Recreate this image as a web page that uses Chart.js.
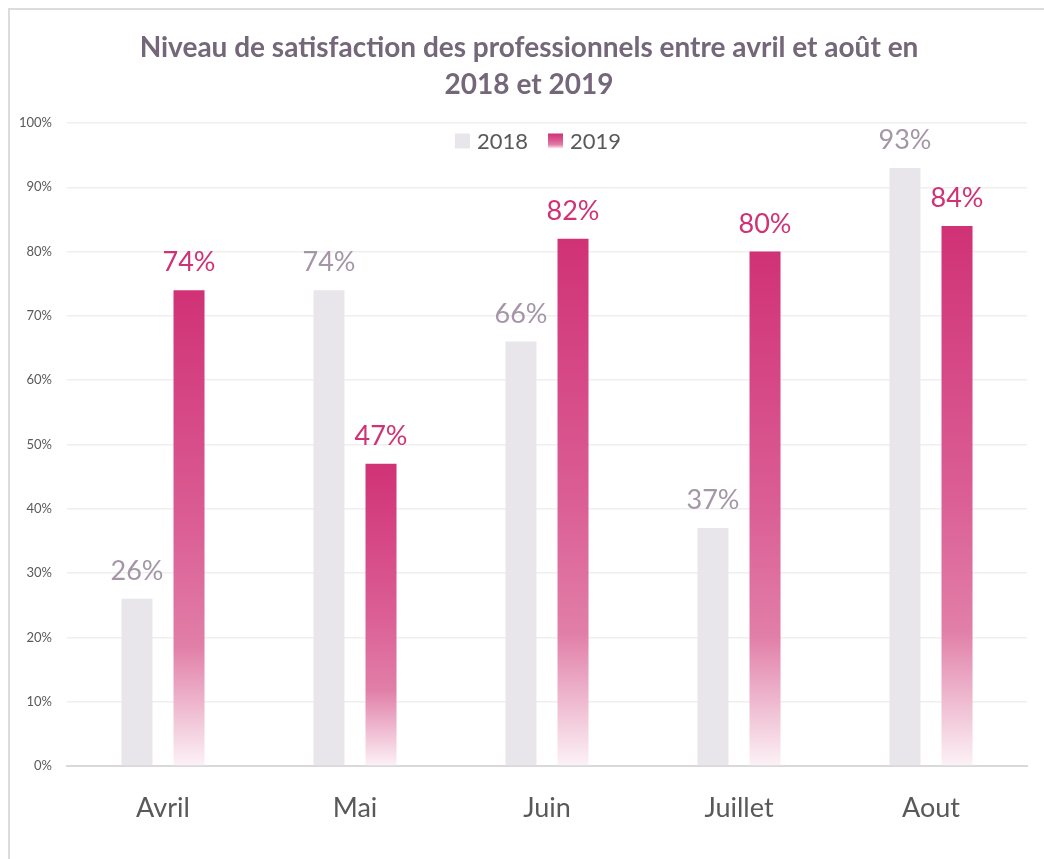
<!DOCTYPE html>
<html>
<head>
<meta charset="utf-8">
<script src="https://cdn.jsdelivr.net/npm/chart.js@4/dist/chart.umd.min.js"></script>
<style>
  html, body { margin: 0; padding: 0; background: #fff; overflow: hidden; }
  #frame { position: absolute; left: 8px; top: 8px; width: 1100px; height: 900px;
           border-left: 2px solid #DEDAE0; border-top: 2px solid #DEDAE0; }
  #wrap { position: absolute; left: 0; top: 0; width: 1044px; height: 859px; }
</style>
</head>
<body>
<div id="frame"></div>
<div id="wrap"><canvas id="c" width="1044" height="859"></canvas></div>
<script>
const categories = ['Avril', 'Mai', 'Juin', 'Juillet', 'Aout'];
const values2018 = [26, 74, 66, 37, 93];
const values2019 = [74, 47, 82, 80, 84];
const seriesNames = ['2018', '2019'];
const titleLines = ['Niveau de satisfaction des professionnels entre avril et août en', '2018 et 2019'];

const FONT = "Lato, 'Open Sans', 'DejaVu Sans', sans-serif";
const PINK = '#D03275';
const GREY = '#E8E6EA';

function pinkGradient(ctx2d, top, bottom) {
  const g = ctx2d.createLinearGradient(0, top, 0, bottom);
  g.addColorStop(0, '#D03275');
  g.addColorStop(0.5, '#DB5E95');
  g.addColorStop(0.75, '#E17FA8');
  g.addColorStop(1, '#FCF2F6');
  return g;
}

const labelPlugin = {
  id: 'valueLabels',
  afterDatasetsDraw(chart) {
    const ctx = chart.ctx;
    ctx.save();
    ctx.font = '27px ' + FONT;
    ctx.textAlign = 'center';
    ctx.textBaseline = 'alphabetic';
    chart.data.datasets.forEach((ds, di) => {
      const meta = chart.getDatasetMeta(di);
      ctx.fillStyle = di === 0 ? '#A596A7' : PINK;
      meta.data.forEach((el, i) => {
        ctx.fillText(ds.data[i] + '%', el.x, el.y - 19);
      });
    });
    ctx.restore();
  },
  afterDraw(chart) {
    const ctx = chart.ctx;
    ctx.save();
    // title
    ctx.font = 'bold 28px ' + FONT;
    ctx.fillStyle = '#75677A';
    ctx.textAlign = 'center';
    ctx.textBaseline = 'middle';
    titleLines.forEach((t, i) => ctx.fillText(t, 529, 48 + i * 37));
    // legend drawn inside the plot area, centred
    ctx.font = '22px ' + FONT;
    ctx.textBaseline = 'middle';
    ctx.textAlign = 'left';
    const box = 15, gapText = 7, gapItem = 20;
    const widths = seriesNames.map(n => ctx.measureText(n).width);
    const total = widths.reduce((a, w) => a + box + gapText + w, 0) + gapItem * (seriesNames.length - 1);
    const cy = chart.chartArea.top + 18;
    let x = 538 - total / 2;
    seriesNames.forEach((name, i) => {
      const y0 = cy - box / 2;
      ctx.fillStyle = i === 0 ? GREY : pinkGradient(ctx, y0, y0 + box);
      ctx.fillRect(x, y0, box, box);
      x += box + gapText;
      ctx.fillStyle = '#595959';
      ctx.fillText(name, x, cy + 1);
      x += widths[i] + gapItem;
    });
    ctx.restore();
  }
};

new Chart(document.getElementById('c'), {
  type: 'bar',
  data: {
    labels: categories,
    datasets: [
      {
        label: seriesNames[0],
        data: values2018,
        backgroundColor: GREY,
        borderWidth: 0,
        categoryPercentage: 0.542,
        barPercentage: 0.596
      },
      {
        label: seriesNames[1],
        data: values2019,
        backgroundColor: (c) => {
          const chart = c.chart;
          if (c.type !== 'data' || !chart.chartArea || !chart.scales.y) return PINK;
          const y = chart.scales.y;
          return pinkGradient(chart.ctx, y.getPixelForValue(c.raw), y.getPixelForValue(0));
        },
        borderWidth: 0,
        categoryPercentage: 0.542,
        barPercentage: 0.596
      }
    ]
  },
  options: {
    responsive: false,
    animation: false,
    layout: { padding: { left: 0, right: 17, top: 123, bottom: 0 } },
    plugins: {
      title: { display: false },
      legend: { display: false },
      tooltip: { enabled: false }
    },
    scales: {
      x: {
        grid: { display: false, drawTicks: false },
        border: { display: true, color: '#D9D9D9', width: 2 },
        ticks: { color: '#595959', font: { family: FONT, size: 27 }, padding: 26 },
        afterFit: (s) => { s.height = 93; }
      },
      y: {
        min: 0,
        max: 100,
        ticks: {
          stepSize: 10,
          color: '#595959',
          font: { family: FONT, size: 13 },
          padding: 15,
          callback: (v) => v + '%'
        },
        grid: { color: '#EFEFEF', lineWidth: 1.5, drawTicks: false },
        border: { display: false },
        afterFit: (s) => { s.width = 67; }
      }
    }
  },
  plugins: [labelPlugin]
});
</script>
</body>
</html>
